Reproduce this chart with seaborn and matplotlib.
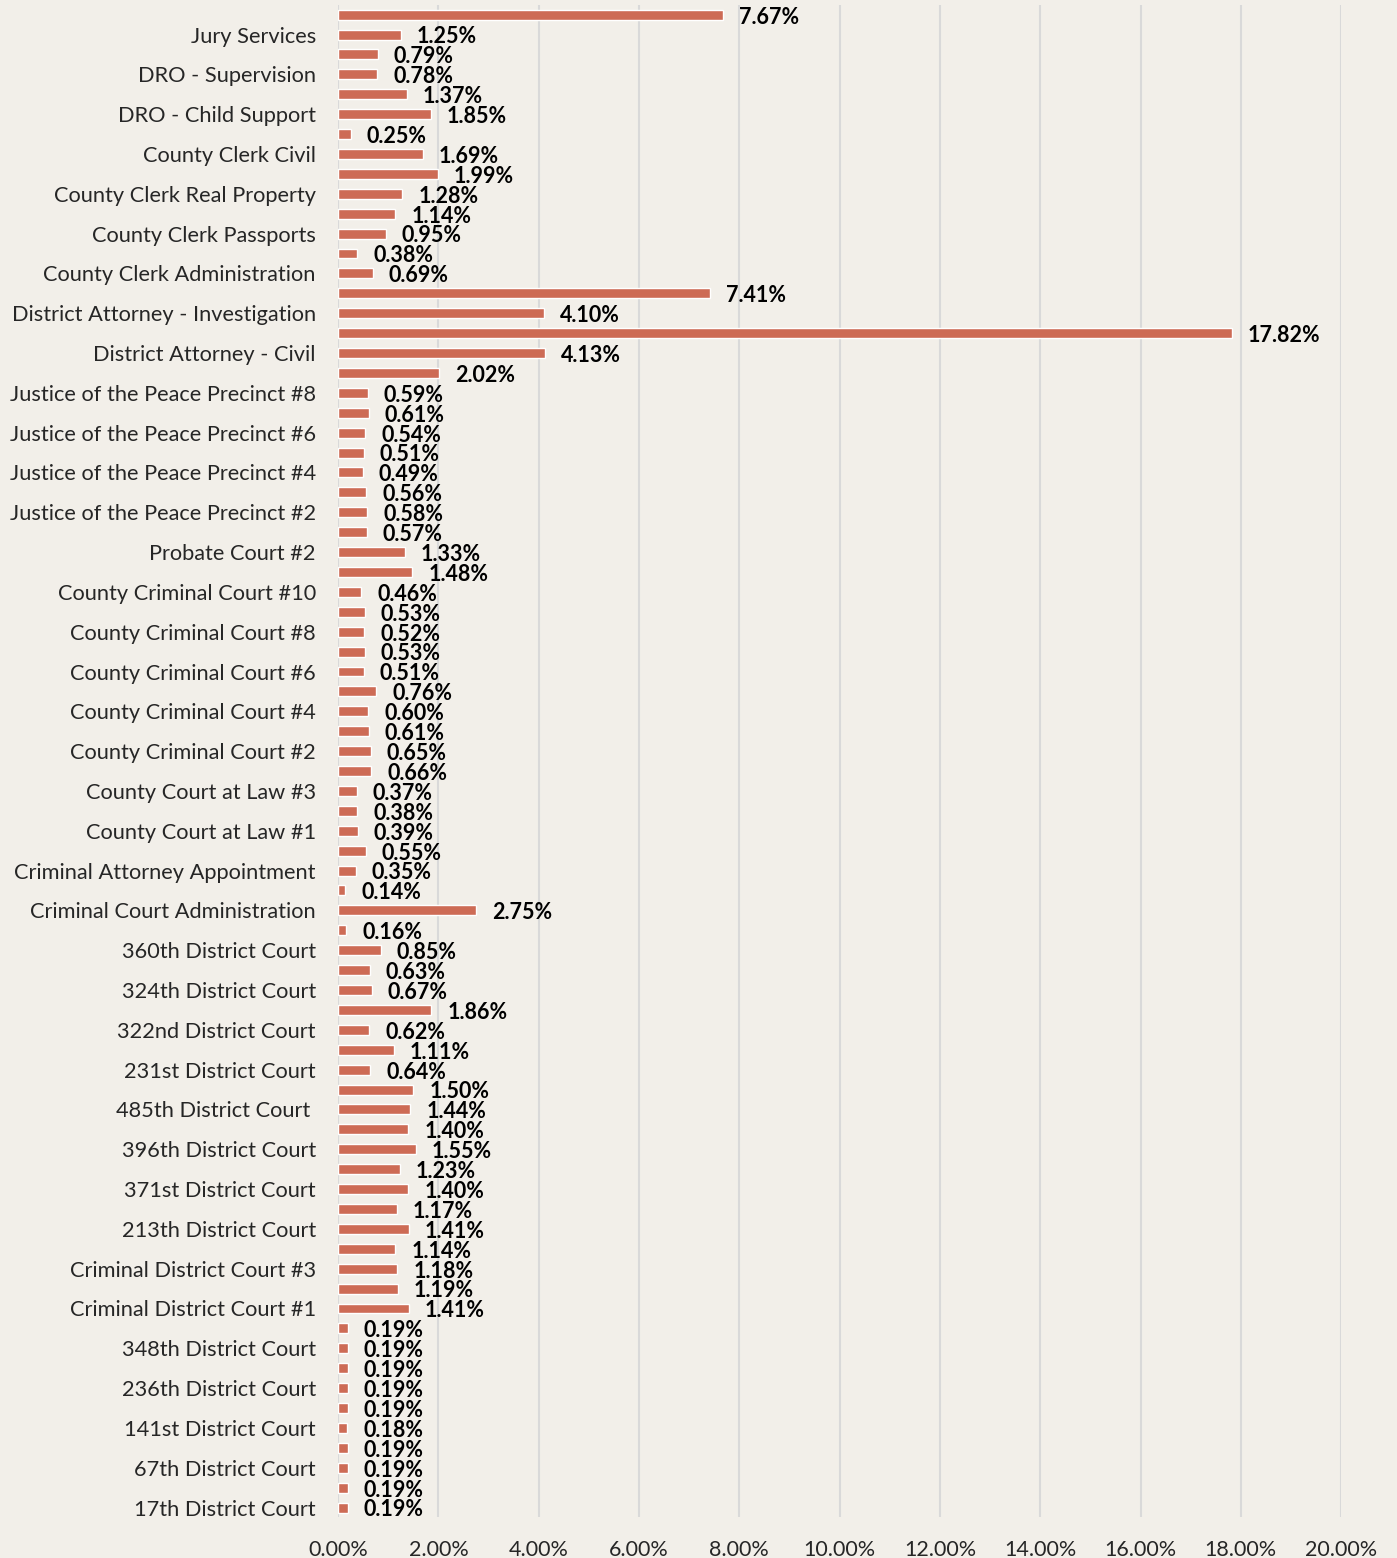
import matplotlib
matplotlib.use("Agg")
import matplotlib.pyplot as plt
import pandas as pd
import seaborn as sns
from matplotlib.ticker import FuncFormatter

# category labels, top to bottom ("" = label hidden on the axis, as in the source)
labels = [
    "", "Jury Services", "", "DRO - Supervision", "", "DRO - Child Support",
    "", "County Clerk Civil", "", "County Clerk Real Property", "", "County Clerk Passports",
    "", "County Clerk Administration", "", "District Attorney - Investigation", "",
    "District Attorney - Civil", "", "Justice of the Peace Precinct #8", "",
    "Justice of the Peace Precinct #6", "", "Justice of the Peace Precinct #4", "",
    "Justice of the Peace Precinct #2", "", "Probate Court #2", "", "County Criminal Court #10",
    "", "County Criminal Court #8", "", "County Criminal Court #6", "", "County Criminal Court #4",
    "", "County Criminal Court #2", "", "County Court at Law #3", "", "County Court at Law #1",
    "", "Criminal Attorney Appointment", "", "Criminal Court Administration", "",
    "360th District Court", "", "324th District Court", "", "322nd District Court", "",
    "231st District Court", "", "485th District Court ", "", "396th District Court", "",
    "371st District Court", "", "213th District Court", "", "Criminal District Court #3", "",
    "Criminal District Court #1", "", "348th District Court", "", "236th District Court", "",
    "141st District Court", "", "67th District Court", "", "17th District Court",
]

# share of budget, percent
shares = [
    7.67, 1.25, 0.79, 0.78, 1.37, 1.85, 0.25, 1.69, 1.99, 1.28, 1.14, 0.95, 0.38, 0.69,
    7.41, 4.10, 17.82, 4.13, 2.02, 0.59, 0.61, 0.54, 0.51, 0.49, 0.56, 0.58, 0.57, 1.33,
    1.48, 0.46, 0.53, 0.52, 0.53, 0.51, 0.76, 0.60, 0.61, 0.65, 0.66, 0.37, 0.38, 0.39,
    0.55, 0.35, 0.14, 2.75, 0.16, 0.85, 0.63, 0.67, 1.86, 0.62, 1.11, 0.64, 1.50, 1.44,
    1.40, 1.55, 1.23, 1.40, 1.17, 1.41, 1.14, 1.18, 1.19, 1.41, 0.19, 0.19, 0.19, 0.19,
    0.19, 0.18, 0.19, 0.19, 0.19, 0.19,
]

bg = "#F2EFE9"
bar_color = "#CD6B55"

sns.set_theme(style="white")
plt.rcParams["font.family"] = ["Lato", "DejaVu Sans"]

df = pd.DataFrame({"row": [str(i) for i in range(len(shares))], "share": shares})

fig, ax = plt.subplots(figsize=(13.97, 15.58), dpi=100)
fig.patch.set_facecolor(bg)
ax.set_facecolor(bg)
fig.subplots_adjust(left=0.242, right=0.96, top=0.997, bottom=0.026)

sns.barplot(data=df, x="share", y="row", orient="h", color=bar_color,
            width=0.5, saturation=1, ax=ax, zorder=3)

for i, v in enumerate(shares):
    ax.text(v + 0.32, i + 0.12, f"{v:.2f}%", va="center", ha="left",
            fontsize=15.5, fontweight="bold", color="black")

ax.set_xlim(0, 20)
ax.set_xticks(range(0, 21, 2))
ax.xaxis.set_major_formatter(FuncFormatter(lambda x, p: f"{x:.2f}%"))
ax.set_yticklabels(labels)
ax.tick_params(axis="y", length=0, pad=16, labelsize=15.7)
ax.tick_params(axis="x", length=0, pad=16, labelsize=15.5)
ax.grid(axis="x", color="#D9D9D9", linewidth=1.5, zorder=0)
ax.set_axisbelow(True)
ax.set_xlabel("")
ax.set_ylabel("")
for s in ax.spines.values():
    s.set_visible(False)

fig.savefig("out.png", dpi=100, facecolor=bg)
